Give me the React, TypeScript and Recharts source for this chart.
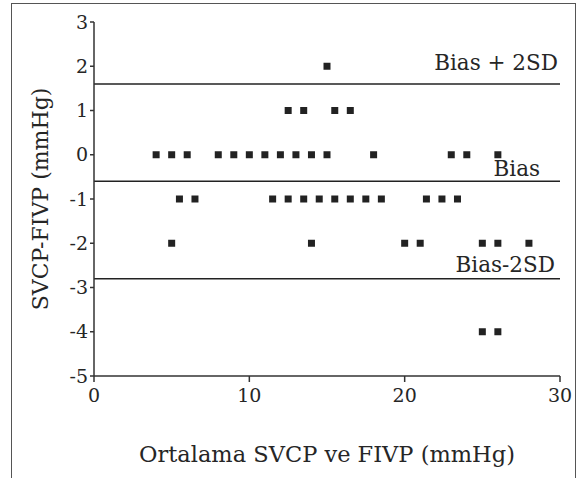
import { ScatterChart, Scatter, XAxis, YAxis, ReferenceLine } from "recharts";

// Bland-Altman: mean of SVCP & FIVP vs their difference
const meanPressure = [
  15,
  12.5, 13.5, 15.5, 16.5,
  4, 5, 6, 8, 9, 10, 11, 12, 13, 14, 15, 18, 23, 24, 26,
  5.5, 6.5, 11.5, 12.5, 13.5, 14.5, 15.5, 16.5, 17.5, 18.5, 21.4, 22.4, 23.4,
  5, 14, 20, 21, 25, 26, 28,
  25, 26,
];
const pressureDiff = [
  2,
  1, 1, 1, 1,
  0, 0, 0, 0, 0, 0, 0, 0, 0, 0, 0, 0, 0, 0, 0,
  -1, -1, -1, -1, -1, -1, -1, -1, -1, -1, -1, -1, -1,
  -2, -2, -2, -2, -2, -2, -2,
  -4, -4,
];

const xTicks = [0, 10, 20, 30];
const yTicks = [-5, -4, -3, -2, -1, 0, 1, 2, 3];

const biasUpper = 1.6;
const bias = -0.6;
const biasLower = -2.8;

const FONT = "'DejaVu Serif', serif";
const INK = "#262626";

const data = meanPressure.map((x, i) => ({ x, y: pressureDiff[i] }));

const SquareDot = ({ cx, cy }: { cx?: number; cy?: number }) => {
  if (cx == null || cy == null) return null;
  return <rect x={cx - 3.5} y={cy - 3.5} width={7} height={7} fill="#222" />;
};

const lineLabel = (text: string, right: number, up: number) => (props: any) => {
  const vb = props.viewBox || {};
  return (
    <text x={vb.x + vb.width - right} y={vb.y - up} textAnchor="end" fontFamily={FONT} fontSize={21.5} fill={INK}>
      {text}
    </text>
  );
};

const XLabel = (props: any) => {
  const vb = props.viewBox || {};
  return (
    <text x={vb.x + vb.width / 2} y={vb.y + 86} textAnchor="middle" fontFamily={FONT} fontSize={22.5} fill={INK}>
      Ortalama SVCP ve FIVP (mmHg)
    </text>
  );
};

const YLabel = (props: any) => {
  const vb = props.viewBox || {};
  const cx = 40;
  const cy = vb.y + vb.height / 2;
  return (
    <text x={cx} y={cy} textAnchor="middle" dominantBaseline="central" transform={`rotate(-90, ${cx}, ${cy})`} fontFamily={FONT} fontSize={22} fill={INK}>
      SVCP-FIVP (mmHg)
    </text>
  );
};

export default function App() {
  return (
    <div style={{ position: "fixed", left: 0, top: 0, width: 580, height: 478, overflow: "hidden", background: "#fff" }}>
      <div style={{ position: "absolute", left: 11, top: 3, width: 563, height: 600, border: "1.5px solid #555", borderBottom: "none" }} />
      <ScatterChart width={580} height={478} margin={{ top: 22, right: 20, bottom: 32, left: 0 }} style={{ position: "absolute", left: 0, top: 0 }}>
        <XAxis
          type="number"
          dataKey="x"
          domain={[0, 30]}
          ticks={xTicks}
          height={70}
          stroke="#333"
          strokeWidth={1.5}
          tickSize={6}
          tickMargin={7}
          tick={{ fontFamily: FONT, fontSize: 19, fill: INK }}
          label={<XLabel />}
        />
        <YAxis
          type="number"
          dataKey="y"
          domain={[-5, 3]}
          ticks={yTicks}
          width={94}
          stroke="#333"
          strokeWidth={1.5}
          tickSize={4}
          tickMargin={2}
          tick={{ fontFamily: FONT, fontSize: 19, fill: INK }}
          label={<YLabel />}
        />
        <ReferenceLine y={biasUpper} stroke="#222" strokeWidth={1.5} label={lineLabel("Bias + 2SD", 2, 14)} />
        <ReferenceLine y={bias} stroke="#222" strokeWidth={1.5} label={lineLabel("Bias", 20, 5)} />
        <ReferenceLine y={biasLower} stroke="#222" strokeWidth={1.5} label={lineLabel("Bias-2SD", 5, 7)} />
        <Scatter data={data} shape={<SquareDot />} isAnimationActive={false} />
      </ScatterChart>
    </div>
  );
}
